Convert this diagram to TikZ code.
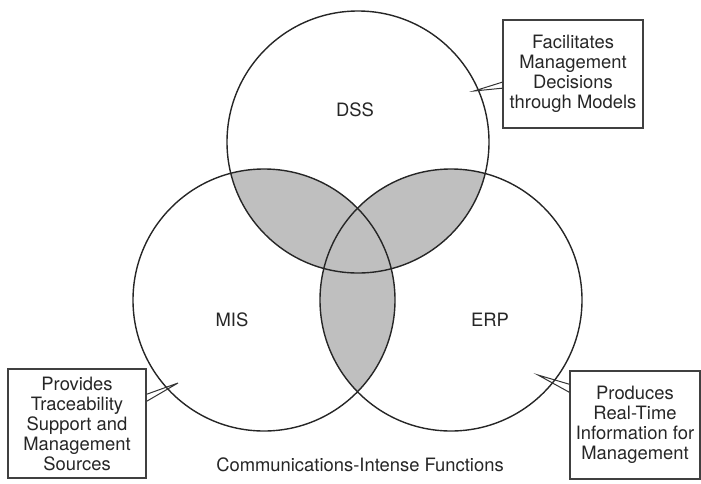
\documentclass[tikz,border=0pt]{standalone}
\usepackage{fontspec}
\setmainfont{TeX Gyre Heros}
\usetikzlibrary{positioning,calc}

\begin{document}
\begin{tikzpicture}[x=0.5pt, y=-0.5pt,
  ring/.style={draw=black!85, line width=0.7pt},
  lap/.style={fill=black!25},
  callout/.style={draw=black!75, line width=0.8pt, align=center, inner sep=0pt, font=\fontsize{9.2}{10}\selectfont, text=black!85},
  tag/.style={font=\fontsize{9.2}{10}\selectfont, text=black!85},
  ptr/.style={draw=black!80, line width=0.5pt}]
\useasboundingbox (0,0) rectangle (701,483);
\coordinate (d) at (358,142);
\coordinate (m) at (264,300);
\coordinate (e) at (451,300);
\begin{scope}
  \clip (d) circle[radius=65.5pt];
  \fill[lap] (m) circle[radius=65.5pt];
  \fill[lap] (e) circle[radius=65.5pt];
\end{scope}
\begin{scope}
  \clip (m) circle[radius=65.5pt];
  \fill[lap] (e) circle[radius=65.5pt];
\end{scope}
\foreach \c in {d,m,e} \draw[ring] (\c) circle[radius=65.5pt];
\node[tag] (dss) at (355,110) {DSS};
\node[tag] (mis) at (232,320) {MIS};
\node[tag] (erp) at (490,320) {ERP};
\node[callout, minimum width=70pt, minimum height=54pt] (fac) at (573,74) {Facilitates\\Management\\Decisions\\through Models};
\node[callout, minimum width=69pt, minimum height=54.5pt] (pro) at (77,423.5) {Provides\\Traceability\\Support and\\Management\\Sources};
\node[callout, minimum width=65pt, minimum height=54pt] (prd) at (635,425) {Produces\\Real-Time\\Information for\\Management};
\node[tag] (cif) at (360,465) {Communications-Intense Functions};
\coordinate (pf) at (474,91);
\coordinate (pp) at (178,383);
\coordinate (pr) at (538,375);
\draw[ptr] ($(fac.north west)+(0,63)$) -- (pf) -- ($(fac.north west)+(0,69)$);
\draw[ptr] ($(pro.north east)+(0,26)$) -- (pp) -- ($(pro.north east)+(0,33)$);
\draw[ptr] ($(prd.north west)+(0,14)$) -- (pr) -- ($(prd.north west)+(0,22)$);
\end{tikzpicture}
\end{document}
